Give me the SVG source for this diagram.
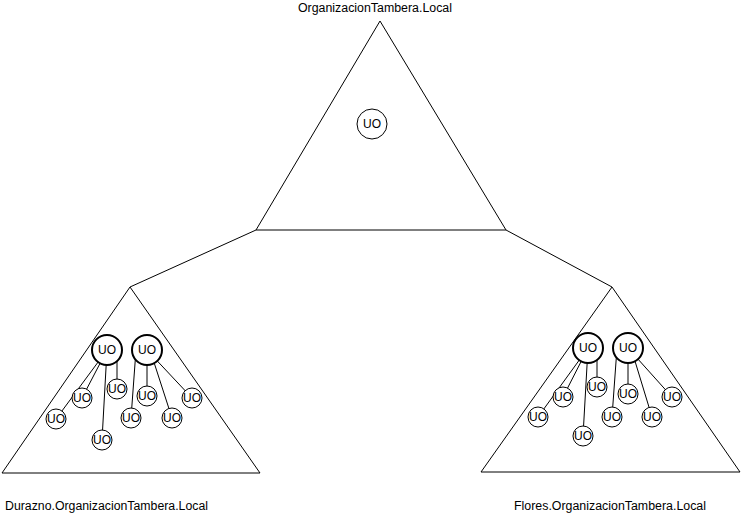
<svg xmlns="http://www.w3.org/2000/svg" width="742" height="520" viewBox="0 0 742 520">
<style>
.tri{fill:none;stroke:#000;stroke-width:1}
.ln{stroke:#000;stroke-width:1;fill:none}
.big{fill:#fff;stroke:#000;stroke-width:2}
.sm{fill:#fff;stroke:#000;stroke-width:1}
.t{font-family:"Liberation Sans",Arial,sans-serif;font-size:12px;fill:#000}
.c{text-anchor:middle;dominant-baseline:central}
</style>
<rect width="742" height="520" fill="#fff"/>
<g id="connectors">
<line class="ln" x1="256" y1="230" x2="130" y2="287"/>
<line class="ln" x1="506" y1="230" x2="612" y2="287"/>
<line class="ln" x1="107" y1="350" x2="56" y2="419"/>
<line class="ln" x1="107" y1="350" x2="82" y2="398"/>
<line class="ln" x1="117" y1="350" x2="117" y2="389"/>
<line class="ln" x1="107" y1="350" x2="102" y2="440"/>
<line class="ln" x1="147" y1="350" x2="147" y2="396"/>
<line class="ln" x1="136" y1="350" x2="131" y2="418"/>
<line class="ln" x1="150" y1="350" x2="172" y2="418"/>
<line class="ln" x1="147" y1="350" x2="192" y2="398"/>
<line class="ln" x1="588" y1="348" x2="538" y2="417"/>
<line class="ln" x1="588" y1="348" x2="563" y2="397"/>
<line class="ln" x1="597" y1="348" x2="597" y2="387"/>
<line class="ln" x1="588" y1="348" x2="583" y2="436"/>
<line class="ln" x1="628" y1="348" x2="628" y2="394"/>
<line class="ln" x1="617" y1="348" x2="612" y2="417"/>
<line class="ln" x1="631" y1="348" x2="652" y2="417"/>
<line class="ln" x1="628" y1="348" x2="672" y2="397"/>
</g>
<g id="root">
<polygon class="tri" points="380,21 256,230 506,230"/>
<text class="t" x="298" y="12" textLength="154" lengthAdjust="spacingAndGlyphs">OrganizacionTambera.Local</text>
</g>
<g id="root-uo"><circle class="sm" cx="372" cy="124" r="15"/><text class="t c" x="372" y="124">UO</text></g>
<g id="durazno">
<polygon class="tri" points="130,287 2,473 260,473"/>
<text class="t" x="5" y="510" textLength="203" lengthAdjust="spacingAndGlyphs">Durazno.OrganizacionTambera.Local</text>
</g>
<g id="flores">
<polygon class="tri" points="612,287 481,472 740,472"/>
<text class="t" x="514" y="510" textLength="192" lengthAdjust="spacingAndGlyphs">Flores.OrganizacionTambera.Local</text>
</g>
<g id="d-uo1"><circle class="big" cx="107" cy="350" r="15"/><text class="t c" x="107" y="350">UO</text></g>
<g id="d-uo2"><circle class="big" cx="147" cy="350" r="15"/><text class="t c" x="147" y="350">UO</text></g>
<g id="d-s1"><circle class="sm" cx="56" cy="419" r="10"/><text class="t c" x="56" y="419">UO</text></g>
<g id="d-s2"><circle class="sm" cx="82" cy="398" r="10"/><text class="t c" x="82" y="398">UO</text></g>
<g id="d-s3"><circle class="sm" cx="117" cy="389" r="10"/><text class="t c" x="117" y="389">UO</text></g>
<g id="d-s4"><circle class="sm" cx="102" cy="440" r="10"/><text class="t c" x="102" y="440">UO</text></g>
<g id="d-s5"><circle class="sm" cx="147" cy="396" r="10"/><text class="t c" x="147" y="396">UO</text></g>
<g id="d-s6"><circle class="sm" cx="131" cy="418" r="10"/><text class="t c" x="131" y="418">UO</text></g>
<g id="d-s7"><circle class="sm" cx="172" cy="418" r="10"/><text class="t c" x="172" y="418">UO</text></g>
<g id="d-s8"><circle class="sm" cx="192" cy="398" r="10"/><text class="t c" x="192" y="398">UO</text></g>
<g id="f-uo1"><circle class="big" cx="588" cy="348" r="15"/><text class="t c" x="588" y="348">UO</text></g>
<g id="f-uo2"><circle class="big" cx="628" cy="348" r="15"/><text class="t c" x="628" y="348">UO</text></g>
<g id="f-s1"><circle class="sm" cx="538" cy="417" r="10"/><text class="t c" x="538" y="417">UO</text></g>
<g id="f-s2"><circle class="sm" cx="563" cy="397" r="10"/><text class="t c" x="563" y="397">UO</text></g>
<g id="f-s3"><circle class="sm" cx="597" cy="387" r="10"/><text class="t c" x="597" y="387">UO</text></g>
<g id="f-s4"><circle class="sm" cx="583" cy="436" r="10"/><text class="t c" x="583" y="436">UO</text></g>
<g id="f-s5"><circle class="sm" cx="628" cy="394" r="10"/><text class="t c" x="628" y="394">UO</text></g>
<g id="f-s6"><circle class="sm" cx="612" cy="417" r="10"/><text class="t c" x="612" y="417">UO</text></g>
<g id="f-s7"><circle class="sm" cx="652" cy="417" r="10"/><text class="t c" x="652" y="417">UO</text></g>
<g id="f-s8"><circle class="sm" cx="672" cy="397" r="10"/><text class="t c" x="672" y="397">UO</text></g>
</svg>
